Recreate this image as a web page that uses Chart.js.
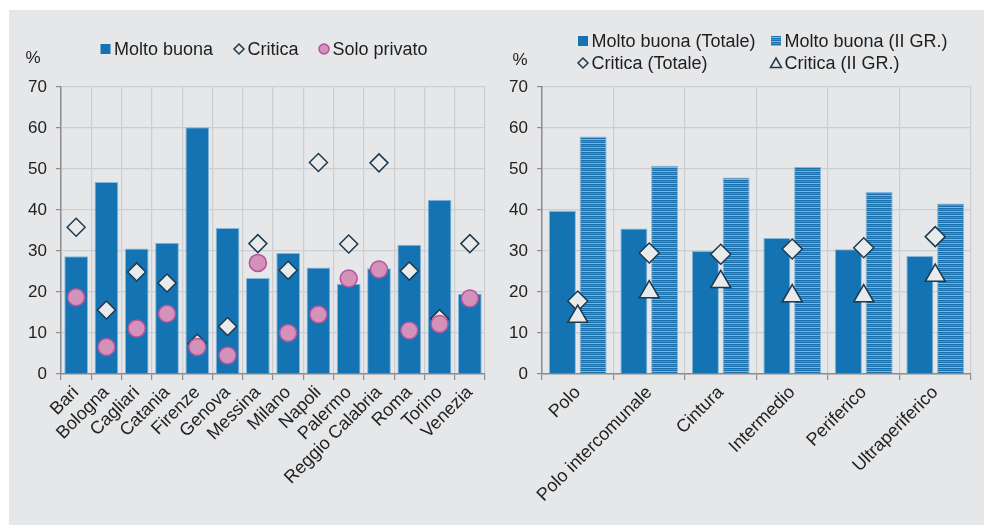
<!DOCTYPE html>
<html>
<head>
<meta charset="utf-8">
<script src="https://cdn.jsdelivr.net/npm/chart.js@4/dist/chart.umd.min.js"></script>
<style>
  body { margin: 0; background: #fff; }
  #panel { position: absolute; left: 9px; top: 10px; width: 975px; height: 515px; background: #e6e7e9; }
  canvas { position: absolute; top: 10px; }
  #cityChart { left: 9px; }
  #areaChart { left: 499px; }
</style>
</head>
<body>
<div id="panel"></div>
<canvas id="cityChart" width="490" height="515"></canvas>
<canvas id="areaChart" width="485" height="515"></canvas>
<script>
// left panel: cities
const cityLabels = ['Bari', 'Bologna', 'Cagliari', 'Catania', 'Firenze', 'Genova', 'Messina', 'Milano',
    'Napoli', 'Palermo', 'Reggio Calabria', 'Roma', 'Torino', 'Venezia'];
const cityMoltoBuona = [28.7, 46.8, 30.6, 32.0, 60.2, 35.6, 23.4, 29.5, 26.0, 22.0, 25.8, 31.5, 42.5, 19.6];
const cityCritica = [35.8, 15.6, 24.9, 22.2, 7.5, 11.6, 31.8, 25.3, 51.6, 31.7, 51.5, 25.1, 13.5, 31.8];
const citySoloPrivato = [18.7, 6.6, 11.1, 14.7, 6.6, 4.5, 27.1, 10.0, 14.5, 23.3, 25.5, 10.6, 12.2, 18.4];

// right panel: areas
const areaLabels = ['Polo', 'Polo intercomunale', 'Cintura', 'Intermedio', 'Periferico', 'Ultraperiferico'];
const areaMoltoBuonaTot = [39.8, 35.5, 30.0, 33.2, 30.4, 28.8];
const areaMoltoBuonaII = [57.9, 50.8, 47.9, 50.5, 44.4, 41.6];
const areaCriticaTot = [17.8, 29.5, 29.2, 30.5, 30.8, 33.5];
const areaCriticaII = [14.0, 20.0, 22.5, 19.0, 19.0, 24.0];

const yMin = 0, yMax = 70, yStep = 10;

const BLUE = '#1473b3';
const NAVY = '#1d3a4f';
const MARKER_FILL = '#e9eaec';
const PINK = '#d491ba';
const MAGENTA = '#b2559a';

Chart.defaults.font.family = '"Liberation Sans", Arial, sans-serif';
Chart.defaults.font.size = 17;
Chart.defaults.color = '#222';
Chart.defaults.animation = false;

function stripePattern(ctx) {
    const c = document.createElement('canvas');
    c.width = 4; c.height = 4;
    const g = c.getContext('2d');
    g.fillStyle = '#1a6fad';
    g.fillRect(0, 0, 4, 4);
    g.fillStyle = '#7fb5da';
    g.fillRect(0, 1, 4, 1);
    g.fillStyle = '#4a90c4';
    g.fillRect(0, 3, 4, 1);
    return ctx.createPattern(c, 'repeat');
}

function marker(ctx, kind, x, y) {
    ctx.save();
    ctx.lineWidth = 1.5;
    if (kind === 'rect') {
        ctx.fillStyle = BLUE;
        ctx.fillRect(x - 5, y - 5, 10, 10);
    } else if (kind === 'stripes') {
        ctx.fillStyle = stripePattern(ctx);
        ctx.translate(x - 5, y - 5);
        ctx.fillRect(0, 0, 10, 10);
    } else if (kind === 'diamond') {
        ctx.strokeStyle = NAVY;
        ctx.beginPath();
        ctx.moveTo(x, y - 5); ctx.lineTo(x + 5, y); ctx.lineTo(x, y + 5); ctx.lineTo(x - 5, y);
        ctx.closePath();
        ctx.stroke();
    } else if (kind === 'triangle') {
        ctx.strokeStyle = NAVY;
        ctx.beginPath();
        ctx.moveTo(x, y - 5); ctx.lineTo(x + 5.5, y + 4.5); ctx.lineTo(x - 5.5, y + 4.5);
        ctx.closePath();
        ctx.stroke();
    } else if (kind === 'circle') {
        ctx.fillStyle = PINK;
        ctx.strokeStyle = MAGENTA;
        ctx.beginPath();
        ctx.arc(x, y, 5, 0, Math.PI * 2);
        ctx.fill();
        ctx.stroke();
    }
    ctx.restore();
}

// legend + "%" label drawn at fixed spots
const sketchLegend = {
    id: 'sketchLegend',
    afterDraw(chart, args, opts) {
        const ctx = chart.ctx;
        ctx.save();
        ctx.font = '18px "Liberation Sans", Arial, sans-serif';
        ctx.fillStyle = '#1e1e1e';
        ctx.textBaseline = 'middle';
        opts.items.forEach(it => {
            marker(ctx, it.kind, it.x, it.y);
            ctx.fillText(it.text, it.x + 8.5, it.y + 1);
        });
        ctx.textAlign = 'center';
        ctx.font = '17px "Liberation Sans", Arial, sans-serif';
        ctx.fillText('%', opts.percent.x, opts.percent.y);
        ctx.restore();
    }
};

function yScale(width) {
    return {
        min: yMin, max: yMax,
        ticks: { stepSize: yStep, padding: 9, color: '#222' },
        grid: { color: '#cdced1', lineWidth: 1.2, tickLength: 5, tickColor: '#8c8c8c' },
        border: { color: '#8c8c8c', width: 1.5 },
        afterFit(s) { s.width = width; }
    };
}

function xScale() {
    return {
        ticks: { minRotation: 45, maxRotation: 45, padding: 2, color: '#222', autoSkip: false, font: { size: 18 } },
        grid: { offset: true, color: '#cdced1', lineWidth: 1.2, tickLength: 6, tickColor: '#8c8c8c' },
        border: { color: '#8c8c8c', width: 1.5 },
        afterFit(s) { s.height = 140; }
    };
}

const cityCtx = document.getElementById('cityChart').getContext('2d');
new Chart(cityCtx, {
    type: 'bar',
    data: {
        labels: cityLabels,
        datasets: [{
            label: 'Molto buona',
            data: cityMoltoBuona,
            backgroundColor: BLUE,
            borderColor: '#86b7db',
            borderWidth: 1,
            categoryPercentage: 0.8,
            barPercentage: 0.98,
            order: 3,
        }, {
            type: 'line',
            label: 'Critica',
            data: cityCritica,
            showLine: false,
            pointStyle: 'rectRot',
            pointRadius: 9,
            pointBackgroundColor: MARKER_FILL,
            pointBorderColor: NAVY,
            pointBorderWidth: 1.5,
            order: 2,
        }, {
            type: 'line',
            label: 'Solo privato',
            data: citySoloPrivato,
            showLine: false,
            pointStyle: 'circle',
            pointRadius: 8.5,
            pointBackgroundColor: PINK,
            pointBorderColor: MAGENTA,
            pointBorderWidth: 1.5,
            order: 1,
        }],
    },
    options: {
        responsive: false,
        layout: { padding: { left: 0, top: 77, right: 14, bottom: 11 } },
        scales: { x: xScale(), y: yScale(52) },
        plugins: {
            legend: { display: false },
            tooltip: { enabled: false },
            sketchLegend: {
                items: [
                    { kind: 'rect', text: 'Molto buona', x: 96.5, y: 39 },
                    { kind: 'diamond', text: 'Critica', x: 230, y: 39 },
                    { kind: 'circle', text: 'Solo privato', x: 315, y: 39 },
                ],
                percent: { x: 24, y: 48 },
            },
        },
    },
    plugins: [sketchLegend],
});

const areaCtx = document.getElementById('areaChart').getContext('2d');
new Chart(areaCtx, {
    type: 'bar',
    data: {
        labels: areaLabels,
        datasets: [{
            label: 'Molto buona (Totale)',
            data: areaMoltoBuonaTot,
            backgroundColor: BLUE,
            borderColor: '#86b7db',
            borderWidth: 1,
            categoryPercentage: 0.86,
            barPercentage: 0.88,
            order: 3,
        }, {
            label: 'Molto buona (II GR.)',
            data: areaMoltoBuonaII,
            backgroundColor: stripePattern(areaCtx),
            borderColor: '#86b7db',
            borderWidth: 1,
            categoryPercentage: 0.86,
            barPercentage: 0.88,
            order: 3,
        }, {
            type: 'line',
            label: 'Critica (Totale)',
            data: areaCriticaTot,
            showLine: false,
            pointStyle: 'rectRot',
            pointRadius: 10,
            pointBackgroundColor: MARKER_FILL,
            pointBorderColor: NAVY,
            pointBorderWidth: 1.5,
            order: 2,
        }, {
            type: 'line',
            label: 'Critica (II GR.)',
            data: areaCriticaII,
            showLine: false,
            pointStyle: 'triangle',
            pointRadius: 11.5,
            pointBackgroundColor: MARKER_FILL,
            pointBorderColor: NAVY,
            pointBorderWidth: 1.5,
            order: 1,
        }],
    },
    options: {
        responsive: false,
        layout: { padding: { left: 0, top: 77, right: 12, bottom: 11 } },
        scales: { x: xScale(), y: yScale(43) },
        plugins: {
            legend: { display: false },
            tooltip: { enabled: false },
            sketchLegend: {
                items: [
                    { kind: 'rect', text: 'Molto buona (Totale)', x: 84, y: 31 },
                    { kind: 'stripes', text: 'Molto buona (II GR.)', x: 277, y: 31 },
                    { kind: 'diamond', text: 'Critica (Totale)', x: 84, y: 53 },
                    { kind: 'triangle', text: 'Critica (II GR.)', x: 277, y: 53 },
                ],
                percent: { x: 21, y: 50 },
            },
        },
    },
    plugins: [sketchLegend],
});
</script>
</body>
</html>
